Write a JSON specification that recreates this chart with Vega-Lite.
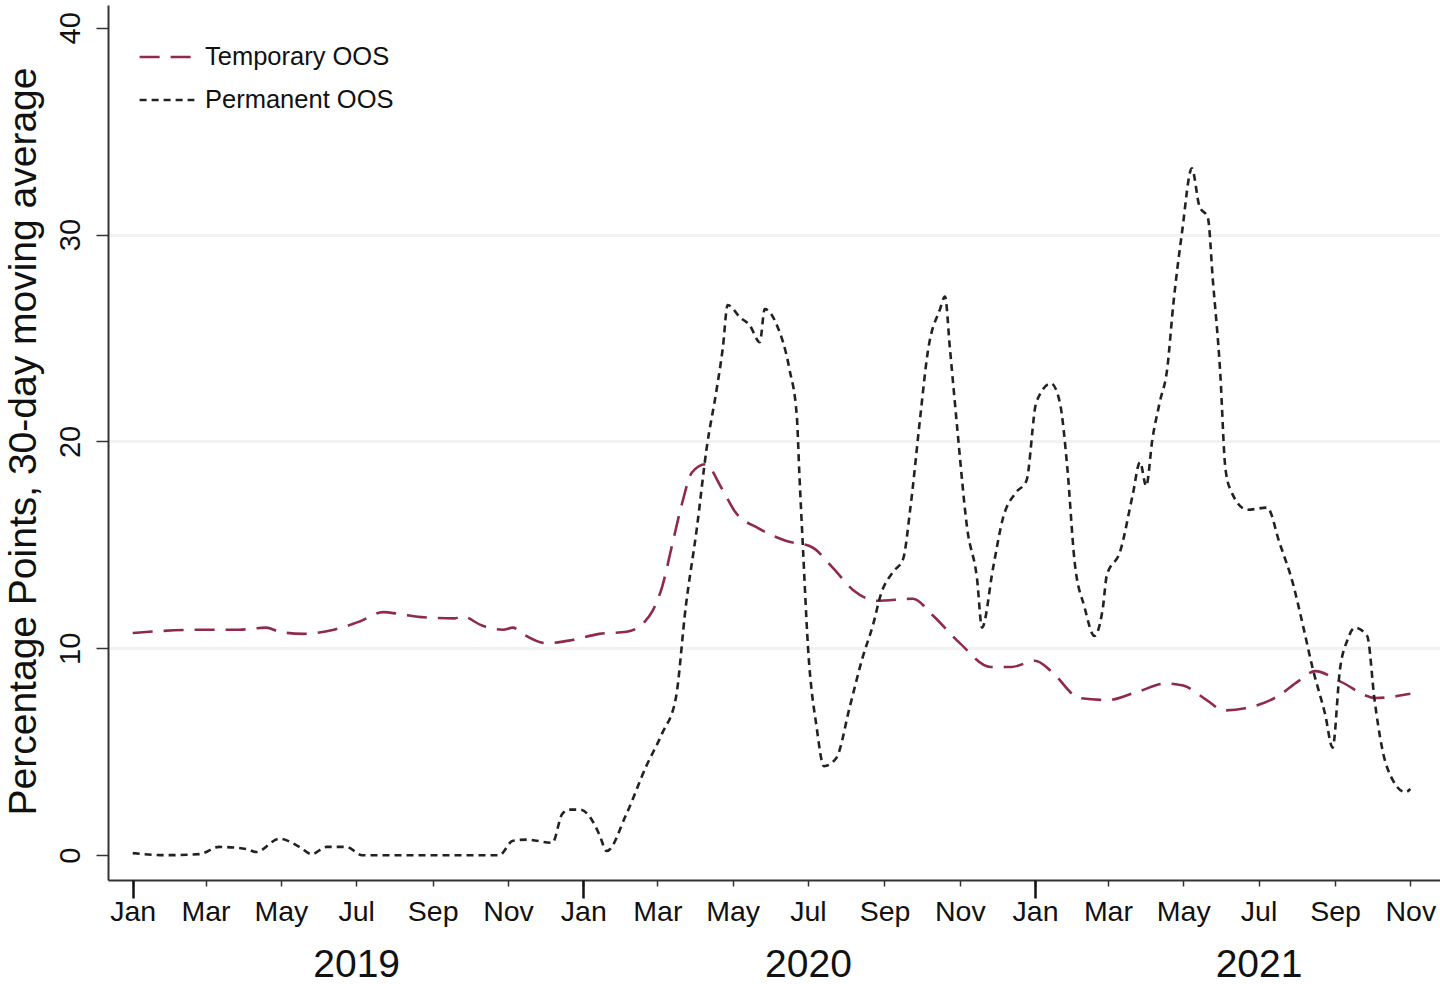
{
  "$schema": "https://vega.github.io/schema/vega-lite/v6.json",
  "width": 1332,
  "height": 875,
  "autosize": {"type": "none"},
  "padding": {"left": 108, "top": 5, "right": 0, "bottom": 104},
  "background": "white",
  "data": {
    "values": [
      {"date": "2019-01-01", "series": "Temporary OOS", "value": 10.74},
      {"date": "2019-02-24", "series": "Temporary OOS", "value": 10.9},
      {"date": "2019-03-28", "series": "Temporary OOS", "value": 10.9},
      {"date": "2019-04-19", "series": "Temporary OOS", "value": 11.0},
      {"date": "2019-04-30", "series": "Temporary OOS", "value": 10.8},
      {"date": "2019-05-19", "series": "Temporary OOS", "value": 10.7},
      {"date": "2019-06-13", "series": "Temporary OOS", "value": 10.9},
      {"date": "2019-07-04", "series": "Temporary OOS", "value": 11.3},
      {"date": "2019-07-23", "series": "Temporary OOS", "value": 11.75},
      {"date": "2019-08-06", "series": "Temporary OOS", "value": 11.65},
      {"date": "2019-08-25", "series": "Temporary OOS", "value": 11.5},
      {"date": "2019-09-19", "series": "Temporary OOS", "value": 11.45},
      {"date": "2019-09-25", "series": "Temporary OOS", "value": 11.55},
      {"date": "2019-10-11", "series": "Temporary OOS", "value": 11.1},
      {"date": "2019-10-28", "series": "Temporary OOS", "value": 10.9},
      {"date": "2019-11-05", "series": "Temporary OOS", "value": 11.0},
      {"date": "2019-11-13", "series": "Temporary OOS", "value": 10.7},
      {"date": "2019-12-02", "series": "Temporary OOS", "value": 10.25},
      {"date": "2019-12-23", "series": "Temporary OOS", "value": 10.4},
      {"date": "2020-01-14", "series": "Temporary OOS", "value": 10.7},
      {"date": "2020-02-05", "series": "Temporary OOS", "value": 10.8},
      {"date": "2020-02-20", "series": "Temporary OOS", "value": 11.3},
      {"date": "2020-02-26", "series": "Temporary OOS", "value": 11.8},
      {"date": "2020-03-05", "series": "Temporary OOS", "value": 13.0},
      {"date": "2020-03-13", "series": "Temporary OOS", "value": 15.0},
      {"date": "2020-03-21", "series": "Temporary OOS", "value": 17.0},
      {"date": "2020-03-29", "series": "Temporary OOS", "value": 18.5},
      {"date": "2020-04-09", "series": "Temporary OOS", "value": 18.9},
      {"date": "2020-04-22", "series": "Temporary OOS", "value": 17.75},
      {"date": "2020-05-03", "series": "Temporary OOS", "value": 16.6},
      {"date": "2020-05-22", "series": "Temporary OOS", "value": 15.8},
      {"date": "2020-06-13", "series": "Temporary OOS", "value": 15.2},
      {"date": "2020-07-04", "series": "Temporary OOS", "value": 14.9},
      {"date": "2020-07-21", "series": "Temporary OOS", "value": 13.9},
      {"date": "2020-08-07", "series": "Temporary OOS", "value": 12.8},
      {"date": "2020-08-26", "series": "Temporary OOS", "value": 12.3},
      {"date": "2020-09-24", "series": "Temporary OOS", "value": 12.4},
      {"date": "2020-10-10", "series": "Temporary OOS", "value": 11.6},
      {"date": "2020-11-01", "series": "Temporary OOS", "value": 10.25},
      {"date": "2020-11-26", "series": "Temporary OOS", "value": 9.1},
      {"date": "2020-12-13", "series": "Temporary OOS", "value": 9.1},
      {"date": "2021-01-01", "series": "Temporary OOS", "value": 9.4},
      {"date": "2021-01-14", "series": "Temporary OOS", "value": 8.9},
      {"date": "2021-02-06", "series": "Temporary OOS", "value": 7.6},
      {"date": "2021-03-01", "series": "Temporary OOS", "value": 7.5},
      {"date": "2021-03-25", "series": "Temporary OOS", "value": 7.9},
      {"date": "2021-04-17", "series": "Temporary OOS", "value": 8.3},
      {"date": "2021-05-01", "series": "Temporary OOS", "value": 8.2},
      {"date": "2021-05-20", "series": "Temporary OOS", "value": 7.5},
      {"date": "2021-06-03", "series": "Temporary OOS", "value": 7.0},
      {"date": "2021-06-20", "series": "Temporary OOS", "value": 7.1},
      {"date": "2021-07-17", "series": "Temporary OOS", "value": 7.7},
      {"date": "2021-08-02", "series": "Temporary OOS", "value": 8.4},
      {"date": "2021-08-16", "series": "Temporary OOS", "value": 8.9},
      {"date": "2021-09-05", "series": "Temporary OOS", "value": 8.4},
      {"date": "2021-10-04", "series": "Temporary OOS", "value": 7.6},
      {"date": "2021-11-01", "series": "Temporary OOS", "value": 7.8},
      {"date": "2019-01-01", "series": "Permanent OOS", "value": 0.1},
      {"date": "2019-01-28", "series": "Permanent OOS", "value": 0.0},
      {"date": "2019-02-24", "series": "Permanent OOS", "value": 0.05},
      {"date": "2019-03-12", "series": "Permanent OOS", "value": 0.4},
      {"date": "2019-04-03", "series": "Permanent OOS", "value": 0.3},
      {"date": "2019-04-11", "series": "Permanent OOS", "value": 0.15},
      {"date": "2019-04-30", "series": "Permanent OOS", "value": 0.8},
      {"date": "2019-05-16", "series": "Permanent OOS", "value": 0.4},
      {"date": "2019-05-26", "series": "Permanent OOS", "value": 0.05},
      {"date": "2019-06-07", "series": "Permanent OOS", "value": 0.4},
      {"date": "2019-06-23", "series": "Permanent OOS", "value": 0.4},
      {"date": "2019-07-06", "series": "Permanent OOS", "value": 0.0},
      {"date": "2019-08-05", "series": "Permanent OOS", "value": 0.0},
      {"date": "2019-09-14", "series": "Permanent OOS", "value": 0.0},
      {"date": "2019-10-25", "series": "Permanent OOS", "value": 0.0},
      {"date": "2019-11-05", "series": "Permanent OOS", "value": 0.7},
      {"date": "2019-11-16", "series": "Permanent OOS", "value": 0.75},
      {"date": "2019-12-07", "series": "Permanent OOS", "value": 0.6},
      {"date": "2019-12-15", "series": "Permanent OOS", "value": 2.0},
      {"date": "2019-12-21", "series": "Permanent OOS", "value": 2.2},
      {"date": "2019-12-30", "series": "Permanent OOS", "value": 2.2},
      {"date": "2020-01-08", "series": "Permanent OOS", "value": 1.7},
      {"date": "2020-01-14", "series": "Permanent OOS", "value": 1.0},
      {"date": "2020-01-20", "series": "Permanent OOS", "value": 0.2},
      {"date": "2020-02-05", "series": "Permanent OOS", "value": 2.0},
      {"date": "2020-02-21", "series": "Permanent OOS", "value": 4.3},
      {"date": "2020-03-05", "series": "Permanent OOS", "value": 5.9},
      {"date": "2020-03-16", "series": "Permanent OOS", "value": 7.6},
      {"date": "2020-03-24", "series": "Permanent OOS", "value": 12.0},
      {"date": "2020-04-02", "series": "Permanent OOS", "value": 15.8},
      {"date": "2020-04-10", "series": "Permanent OOS", "value": 19.7},
      {"date": "2020-04-18", "series": "Permanent OOS", "value": 22.5},
      {"date": "2020-04-23", "series": "Permanent OOS", "value": 24.5},
      {"date": "2020-04-27", "series": "Permanent OOS", "value": 26.6},
      {"date": "2020-05-07", "series": "Permanent OOS", "value": 26.0},
      {"date": "2020-05-15", "series": "Permanent OOS", "value": 25.6},
      {"date": "2020-05-23", "series": "Permanent OOS", "value": 24.8},
      {"date": "2020-05-27", "series": "Permanent OOS", "value": 26.4},
      {"date": "2020-06-06", "series": "Permanent OOS", "value": 25.6},
      {"date": "2020-06-16", "series": "Permanent OOS", "value": 23.5},
      {"date": "2020-06-22", "series": "Permanent OOS", "value": 21.2},
      {"date": "2020-06-24", "series": "Permanent OOS", "value": 18.5},
      {"date": "2020-06-27", "series": "Permanent OOS", "value": 14.8},
      {"date": "2020-07-01", "series": "Permanent OOS", "value": 10.1},
      {"date": "2020-07-08", "series": "Permanent OOS", "value": 6.2},
      {"date": "2020-07-14", "series": "Permanent OOS", "value": 4.3},
      {"date": "2020-07-24", "series": "Permanent OOS", "value": 4.7},
      {"date": "2020-08-04", "series": "Permanent OOS", "value": 7.2},
      {"date": "2020-08-14", "series": "Permanent OOS", "value": 9.5},
      {"date": "2020-08-23", "series": "Permanent OOS", "value": 11.2},
      {"date": "2020-08-29", "series": "Permanent OOS", "value": 12.6},
      {"date": "2020-09-08", "series": "Permanent OOS", "value": 13.7},
      {"date": "2020-09-16", "series": "Permanent OOS", "value": 14.3},
      {"date": "2020-09-22", "series": "Permanent OOS", "value": 16.8},
      {"date": "2020-09-30", "series": "Permanent OOS", "value": 21.2},
      {"date": "2020-10-06", "series": "Permanent OOS", "value": 24.3},
      {"date": "2020-10-16", "series": "Permanent OOS", "value": 26.4},
      {"date": "2020-10-20", "series": "Permanent OOS", "value": 27.0},
      {"date": "2020-10-24", "series": "Permanent OOS", "value": 24.5},
      {"date": "2020-10-30", "series": "Permanent OOS", "value": 20.6},
      {"date": "2020-11-07", "series": "Permanent OOS", "value": 15.8},
      {"date": "2020-11-15", "series": "Permanent OOS", "value": 13.35},
      {"date": "2020-11-19", "series": "Permanent OOS", "value": 11.0},
      {"date": "2020-11-28", "series": "Permanent OOS", "value": 13.9},
      {"date": "2020-12-06", "series": "Permanent OOS", "value": 16.3},
      {"date": "2020-12-16", "series": "Permanent OOS", "value": 17.5},
      {"date": "2020-12-25", "series": "Permanent OOS", "value": 18.1},
      {"date": "2021-01-02", "series": "Permanent OOS", "value": 21.9},
      {"date": "2021-01-14", "series": "Permanent OOS", "value": 22.8},
      {"date": "2021-01-21", "series": "Permanent OOS", "value": 21.9},
      {"date": "2021-01-27", "series": "Permanent OOS", "value": 18.8},
      {"date": "2021-02-02", "series": "Permanent OOS", "value": 14.2},
      {"date": "2021-02-10", "series": "Permanent OOS", "value": 12.0},
      {"date": "2021-02-18", "series": "Permanent OOS", "value": 10.6},
      {"date": "2021-02-25", "series": "Permanent OOS", "value": 12.0},
      {"date": "2021-02-28", "series": "Permanent OOS", "value": 13.5},
      {"date": "2021-03-11", "series": "Permanent OOS", "value": 14.7},
      {"date": "2021-03-21", "series": "Permanent OOS", "value": 17.4},
      {"date": "2021-03-27", "series": "Permanent OOS", "value": 19.0},
      {"date": "2021-04-01", "series": "Permanent OOS", "value": 17.85},
      {"date": "2021-04-06", "series": "Permanent OOS", "value": 20.1},
      {"date": "2021-04-12", "series": "Permanent OOS", "value": 21.9},
      {"date": "2021-04-18", "series": "Permanent OOS", "value": 23.5},
      {"date": "2021-04-23", "series": "Permanent OOS", "value": 26.65},
      {"date": "2021-04-30", "series": "Permanent OOS", "value": 30.1},
      {"date": "2021-05-08", "series": "Permanent OOS", "value": 33.2},
      {"date": "2021-05-14", "series": "Permanent OOS", "value": 31.4},
      {"date": "2021-05-21", "series": "Permanent OOS", "value": 30.8},
      {"date": "2021-05-25", "series": "Permanent OOS", "value": 27.8},
      {"date": "2021-05-31", "series": "Permanent OOS", "value": 23.3},
      {"date": "2021-06-04", "series": "Permanent OOS", "value": 18.8},
      {"date": "2021-06-08", "series": "Permanent OOS", "value": 17.7},
      {"date": "2021-06-22", "series": "Permanent OOS", "value": 16.7},
      {"date": "2021-07-08", "series": "Permanent OOS", "value": 16.8},
      {"date": "2021-07-18", "series": "Permanent OOS", "value": 15.1},
      {"date": "2021-07-29", "series": "Permanent OOS", "value": 13.1},
      {"date": "2021-08-06", "series": "Permanent OOS", "value": 11.1},
      {"date": "2021-08-14", "series": "Permanent OOS", "value": 9.0},
      {"date": "2021-08-24", "series": "Permanent OOS", "value": 6.8},
      {"date": "2021-08-30", "series": "Permanent OOS", "value": 5.2},
      {"date": "2021-09-05", "series": "Permanent OOS", "value": 9.0},
      {"date": "2021-09-11", "series": "Permanent OOS", "value": 10.4},
      {"date": "2021-09-17", "series": "Permanent OOS", "value": 11.0},
      {"date": "2021-09-27", "series": "Permanent OOS", "value": 10.6},
      {"date": "2021-10-03", "series": "Permanent OOS", "value": 7.5},
      {"date": "2021-10-09", "series": "Permanent OOS", "value": 5.2},
      {"date": "2021-10-18", "series": "Permanent OOS", "value": 3.6},
      {"date": "2021-10-28", "series": "Permanent OOS", "value": 3.05},
      {"date": "2021-11-01", "series": "Permanent OOS", "value": 3.2}
    ]
  },
  "layer": [
    {
      "mark": {"type": "line", "strokeWidth": 2.6, "interpolate": "monotone"},
      "encoding": {
        "x": {
          "field": "date",
          "type": "temporal",
          "scale": {"type": "utc", "domain": [{"year": 2018, "month": 12, "date": 12, "utc": true}, {"year": 2021, "month": 11, "date": 25, "utc": true}]},
          "axis": {
            "orient": "bottom",
            "title": null,
            "format": "%b",
            "tickCount": {"interval": "month", "step": 2},
            "tickSize": 6,
            "tickWidth": 1.5,
            "tickColor": "#333333",
            "domainColor": "#333333",
            "domainWidth": 2,
            "grid": false,
            "labelFont": "Liberation Sans",
            "labelFontSize": 28.5,
            "labelColor": "#111111",
            "labelPadding": 11,
            "labelFlush": false,
            "labelOverlap": false
          }
        },
        "y": {
          "field": "value",
          "type": "quantitative",
          "scale": {"domain": [-1.2, 41.1], "nice": false, "zero": false},
          "axis": {
            "orient": "left",
            "values": [0, 10, 20, 30, 40],
            "title": "Percentage Points, 30-day moving average",
            "titleFont": "Liberation Sans",
            "titleFontSize": 39,
            "titleFontWeight": "normal",
            "titleColor": "#111111",
            "titleAngle": -90,
            "titleAlign": "center",
            "titleBaseline": "alphabetic",
            "titleX": -73,
            "titleY": 436,
            "labelAngle": -90,
            "labelAlign": "center",
            "labelBaseline": "alphabetic",
            "labelFont": "Liberation Sans",
            "labelFontSize": 29,
            "labelColor": "#111111",
            "labelPadding": 17,
            "tickSize": 12,
            "tickWidth": 1.5,
            "tickColor": "#333333",
            "domainColor": "#333333",
            "domainWidth": 2,
            "grid": true,
            "gridColor": {"condition": {"test": "datum.value == 0 || datum.value == 40", "value": "transparent"}, "value": "#f2f2f2"},
            "gridWidth": 3
          }
        },
        "color": {
          "field": "series",
          "type": "nominal",
          "scale": {"domain": ["Temporary OOS", "Permanent OOS"], "range": ["#8f2a48", "#222222"]},
          "legend": {
            "title": null,
            "orient": "none",
            "legendX": 30,
            "legendY": 23,
            "symbolType": "stroke",
            "symbolSize": 3000,
            "symbolStrokeWidth": 2.5,
            "labelFont": "Liberation Sans",
            "labelFontSize": 25.5,
            "labelColor": "#111111",
            "labelLimit": 500,
            "labelOffset": 9,
            "rowPadding": -4
          }
        },
        "strokeDash": {
          "field": "series",
          "type": "nominal",
          "scale": {"domain": ["Temporary OOS", "Permanent OOS"], "range": [[20, 11], [7, 5]]},
          "legend": {
            "title": null,
            "orient": "none",
            "legendX": 30,
            "legendY": 23,
            "symbolType": "stroke",
            "symbolSize": 3000,
            "symbolStrokeWidth": 2.5,
            "labelFont": "Liberation Sans",
            "labelFontSize": 25.5,
            "labelColor": "#111111",
            "labelLimit": 500,
            "labelOffset": 9,
            "rowPadding": -4
          }
        }
      }
    },
    {
      "mark": {"type": "line", "opacity": 0},
      "encoding": {
        "x": {
          "field": "date",
          "type": "temporal",
          "scale": {"type": "utc", "domain": [{"year": 2018, "month": 12, "date": 12, "utc": true}, {"year": 2021, "month": 11, "date": 25, "utc": true}]},
          "axis": {
            "orient": "bottom",
            "title": null,
            "tickCount": {"interval": "year", "step": 1},
            "tickSize": 18,
            "tickWidth": 2.5,
            "tickColor": "#111111",
            "labels": false,
            "domain": false,
            "grid": false
          }
        },
        "y": {"field": "value", "type": "quantitative", "scale": {"domain": [-1.2, 41.1], "nice": false, "zero": false}, "axis": null},
        "detail": {"field": "series"}
      }
    },
    {
      "mark": {"type": "line", "opacity": 0},
      "encoding": {
        "x": {
          "field": "date",
          "type": "temporal",
          "scale": {"type": "utc", "domain": [{"year": 2018, "month": 12, "date": 12, "utc": true}, {"year": 2021, "month": 11, "date": 25, "utc": true}]},
          "axis": {
            "orient": "bottom",
            "title": null,
            "values": [
              {"year": 2019, "month": 7, "date": 1, "utc": true},
              {"year": 2020, "month": 7, "date": 1, "utc": true},
              {"year": 2021, "month": 7, "date": 1, "utc": true}
            ],
            "format": "%Y",
            "ticks": false,
            "tickSize": 0,
            "domain": false,
            "grid": false,
            "labelFont": "Liberation Sans",
            "labelFontSize": 39,
            "labelColor": "#111111",
            "labelPadding": 65,
            "labelFlush": false,
            "labelOverlap": false
          }
        },
        "y": {"field": "value", "type": "quantitative", "scale": {"domain": [-1.2, 41.1], "nice": false, "zero": false}, "axis": null},
        "detail": {"field": "series"}
      }
    }
  ],
  "resolve": {"scale": {"x": "shared", "y": "shared"}, "axis": {"x": "independent", "y": "independent"}},
  "config": {"view": {"stroke": null}}
}
